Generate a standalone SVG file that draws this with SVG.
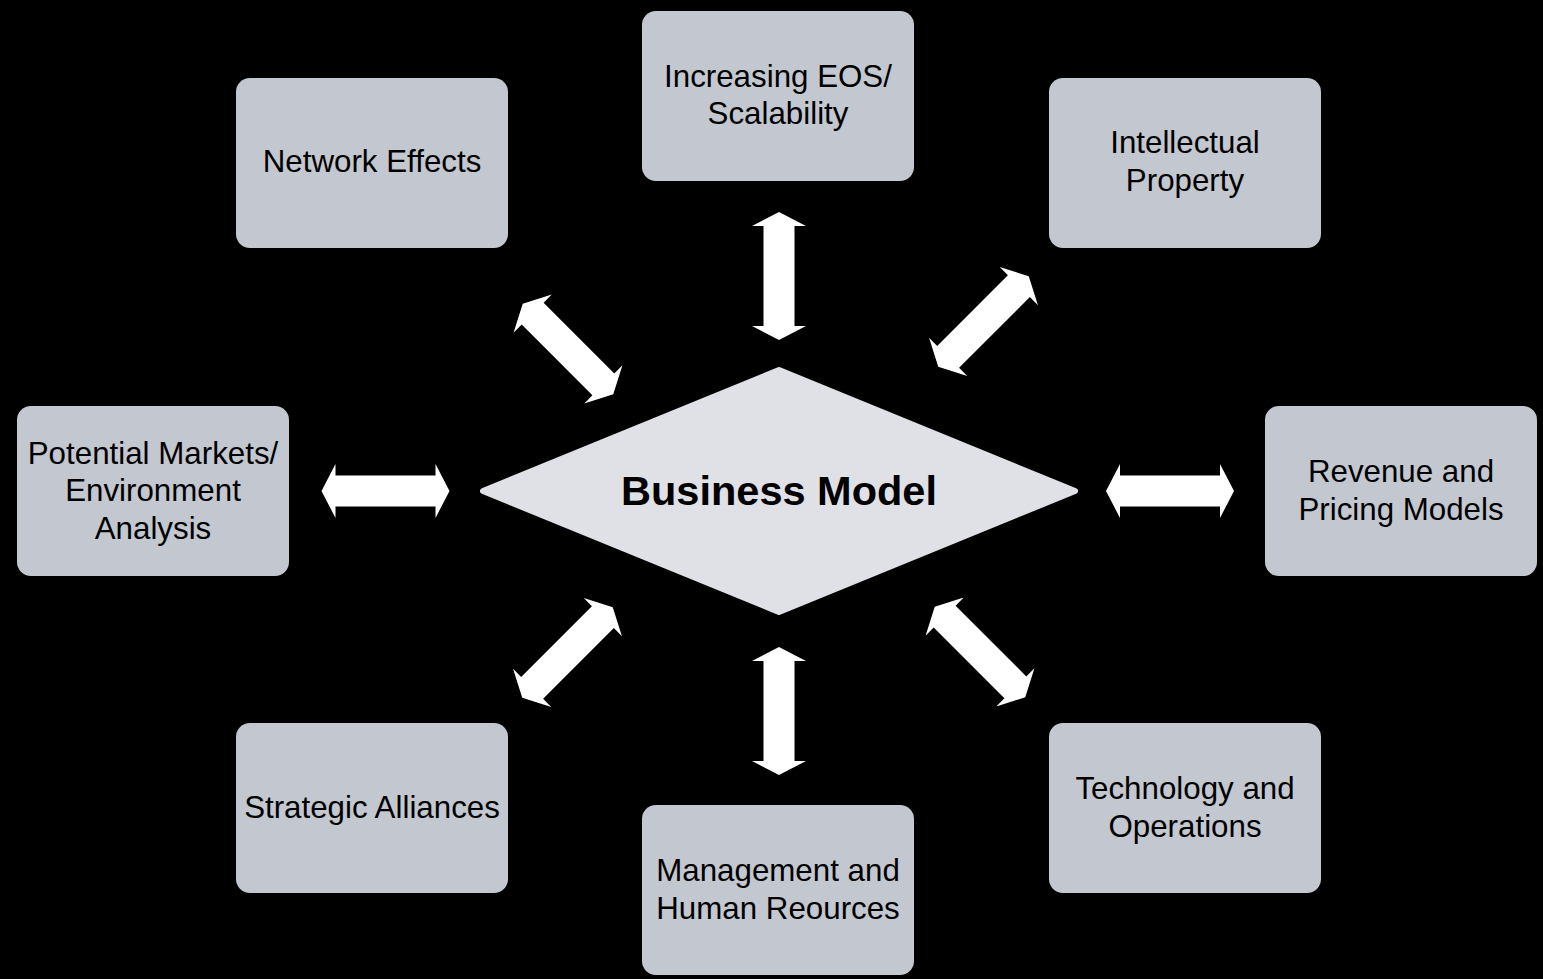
<svg xmlns="http://www.w3.org/2000/svg" width="1543" height="979" viewBox="0 0 1543 979">
  <style>
    .box { fill: #c3c8d0; }
    .label { font-family: "Liberation Sans", Arial, sans-serif; font-size: 31.3px; fill: #000; text-anchor: middle; }
    .hub { fill: #dfe1e6; stroke: #dfe1e6; stroke-width: 6; stroke-linejoin: round; }
    .hub-label { font-family: "Liberation Sans", Arial, sans-serif; font-size: 41.5px; font-weight: bold; fill: #000; text-anchor: middle; }
    .link { fill: #ffffff; }
  </style>
  <defs>
    <!-- double-headed block arrow, 128 long, centred on the origin along x -->
    <path id="dbl-arrow" d="M -64 0 L -50 -27 L -50 -15.5 L 50 -15.5 L 50 -27 L 64 0 L 50 27 L 50 15.5 L -50 15.5 L -50 27 Z"/>
  </defs>
  <rect width="1543" height="979" fill="#000000"/>

  <g id="connectors" class="link">
    <use href="#dbl-arrow" transform="translate(779 276) rotate(90)"/>
    <use href="#dbl-arrow" transform="translate(779 711) rotate(90)"/>
    <use href="#dbl-arrow" transform="translate(385.5 491)"/>
    <use href="#dbl-arrow" transform="translate(1170 491)"/>
    <use href="#dbl-arrow" transform="translate(568 349) rotate(45)"/>
    <use href="#dbl-arrow" transform="translate(983.5 321.5) rotate(-45)"/>
    <use href="#dbl-arrow" transform="translate(567.5 652.5) rotate(-45)"/>
    <use href="#dbl-arrow" transform="translate(980 652) rotate(45)"/>
  </g>

  <g id="business-model">
    <polygon class="hub" points="483,491 779,370 1075,491 779,612"/>
    <text class="hub-label" x="779" y="505">Business Model</text>
  </g>

  <g id="scalability">
    <rect class="box" x="642" y="11" width="272" height="170" rx="14"/>
    <text class="label" x="778" y="87">Increasing EOS/</text>
    <text class="label" x="778" y="124">Scalability</text>
  </g>

  <g id="network-effects">
    <rect class="box" x="236" y="78" width="272" height="170" rx="14"/>
    <text class="label" x="372" y="172">Network Effects</text>
  </g>

  <g id="intellectual-property">
    <rect class="box" x="1049" y="78" width="272" height="170" rx="14"/>
    <text class="label" x="1185" y="153">Intellectual</text>
    <text class="label" x="1185" y="191">Property</text>
  </g>

  <g id="potential-markets">
    <rect class="box" x="17" y="406" width="272" height="170" rx="14"/>
    <text class="label" x="153" y="464">Potential Markets/</text>
    <text class="label" x="153" y="501">Environment</text>
    <text class="label" x="153" y="539">Analysis</text>
  </g>

  <g id="revenue-pricing">
    <rect class="box" x="1265" y="406" width="272" height="170" rx="14"/>
    <text class="label" x="1401" y="482">Revenue and</text>
    <text class="label" x="1401" y="520">Pricing Models</text>
  </g>

  <g id="strategic-alliances">
    <rect class="box" x="236" y="723" width="272" height="170" rx="14"/>
    <text class="label" x="372" y="818">Strategic Alliances</text>
  </g>

  <g id="technology-operations">
    <rect class="box" x="1049" y="723" width="272" height="170" rx="14"/>
    <text class="label" x="1185" y="799">Technology and</text>
    <text class="label" x="1185" y="837">Operations</text>
  </g>

  <g id="management-hr">
    <rect class="box" x="642" y="805" width="272" height="170" rx="14"/>
    <text class="label" x="778" y="881">Management and</text>
    <text class="label" x="778" y="919">Human Reources</text>
  </g>
</svg>
